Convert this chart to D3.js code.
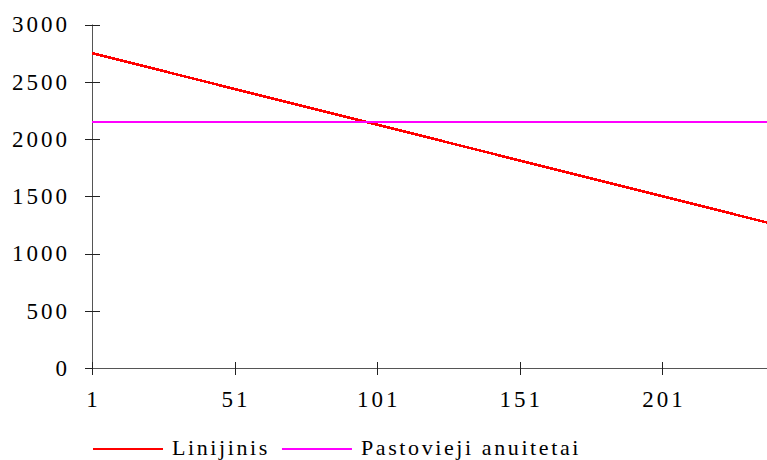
<!DOCTYPE html>
<html>
<head>
<meta charset="utf-8">
<script src="https://cdn.jsdelivr.net/npm/d3@7"></script>
<style>
  html, body { margin: 0; padding: 0; background: #fff; }
  svg { display: block; }
  text { font-family: "Liberation Serif", "Times New Roman", serif; fill: #000; }
</style>
</head>
<body>
<svg id="chart" width="767" height="460"></svg>
<script>
// Monthly loan payments: linear repayment vs. constant annuity
const periodsLinear = [1, 51, 101, 151, 201, 240];
const valuesLinear  = [2750, 2437, 2125, 1812, 1500, 1256];
const periodsAnnuity = [1, 240];
const valuesAnnuity  = [2149, 2149];
const yTicks = [0, 500, 1000, 1500, 2000, 2500, 3000];
const xTicks = [1, 51, 101, 151, 201];
const seriesNames = ["Linijinis", "Pastovieji anuitetai"];
const seriesColors = ["#ff0000", "#ff00ff"];

const svg = d3.select("#chart");

const x = d3.scaleLinear().domain([1, 240]).range([92, 773.7]);
const y = d3.scaleLinear().domain([0, 3000]).range([368, 24.5]);

const axisColor = "#555";

// Y axis: ticks crossing the axis line
const yAxis = svg.append("g").attr("transform", `translate(${x(1)},0)`);
yAxis.append("line")
  .attr("x1", 0.5).attr("x2", 0.5)
  .attr("y1", y(3000)).attr("y2", y(0))
  .attr("stroke", axisColor).attr("stroke-width", 1);
yAxis.selectAll("line.tick").data(yTicks).join("line")
  .attr("class", "tick")
  .attr("x1", -7).attr("x2", 8)
  .attr("y1", d => Math.round(y(d)) + 0.5).attr("y2", d => Math.round(y(d)) + 0.5)
  .attr("stroke", "#222").attr("stroke-width", 1);
yAxis.selectAll("text").data(yTicks).join("text")
  .attr("x", -22)
  .attr("y", d => y(d))
  .attr("dy", "0.34em")
  .attr("text-anchor", "end")
  .style("font-size", "23px")
  .style("letter-spacing", "3px")
  .text(d => d);

// X axis
const xAxis = svg.append("g").attr("transform", `translate(0,${Math.round(y(0))})`);
xAxis.append("line")
  .attr("x1", x(1)).attr("x2", 767)
  .attr("y1", 0.5).attr("y2", 0.5)
  .attr("stroke", axisColor).attr("stroke-width", 1);
xAxis.selectAll("line.tick").data(xTicks).join("line")
  .attr("class", "tick")
  .attr("x1", d => Math.round(x(d)) + 0.5).attr("x2", d => Math.round(x(d)) + 0.5)
  .attr("y1", -6).attr("y2", 7)
  .attr("stroke", "#222").attr("stroke-width", 1);
xAxis.selectAll("text").data(xTicks).join("text")
  .attr("x", d => x(d) + 1.5)
  .attr("y", 39)
  .attr("text-anchor", "middle")
  .style("font-size", "23px")
  .style("letter-spacing", "3px")
  .text(d => d);

// Series lines
const line = d3.line().x(d => x(d[0])).y(d => y(d[1]));
const seriesData = [
  d3.zip(periodsLinear, valuesLinear),
  d3.zip(periodsAnnuity, valuesAnnuity)
];
svg.append("g").selectAll("path").data(seriesData).join("path")
  .attr("d", line)
  .attr("fill", "none")
  .attr("stroke", (d, i) => seriesColors[i])
  .attr("stroke-width", (d, i) => i === 0 ? 2.6 : 2.2)
  .attr("shape-rendering", "crispEdges");

// Legend
const legend = svg.append("g").attr("transform", "translate(93,449)");
let cursor = 0;
seriesNames.forEach((name, i) => {
  legend.append("line")
    .attr("x1", cursor).attr("x2", cursor + 70)
    .attr("y1", 0).attr("y2", 0)
    .attr("stroke", seriesColors[i]).attr("stroke-width", 2);
  const t = legend.append("text")
    .attr("x", cursor + 79)
    .attr("y", 6)
    .style("font-size", "22px")
    .style("letter-spacing", "2.6px")
    .text(name);
  cursor += 79 + t.node().getComputedTextLength() + 12;
});
</script>
</body>
</html>
